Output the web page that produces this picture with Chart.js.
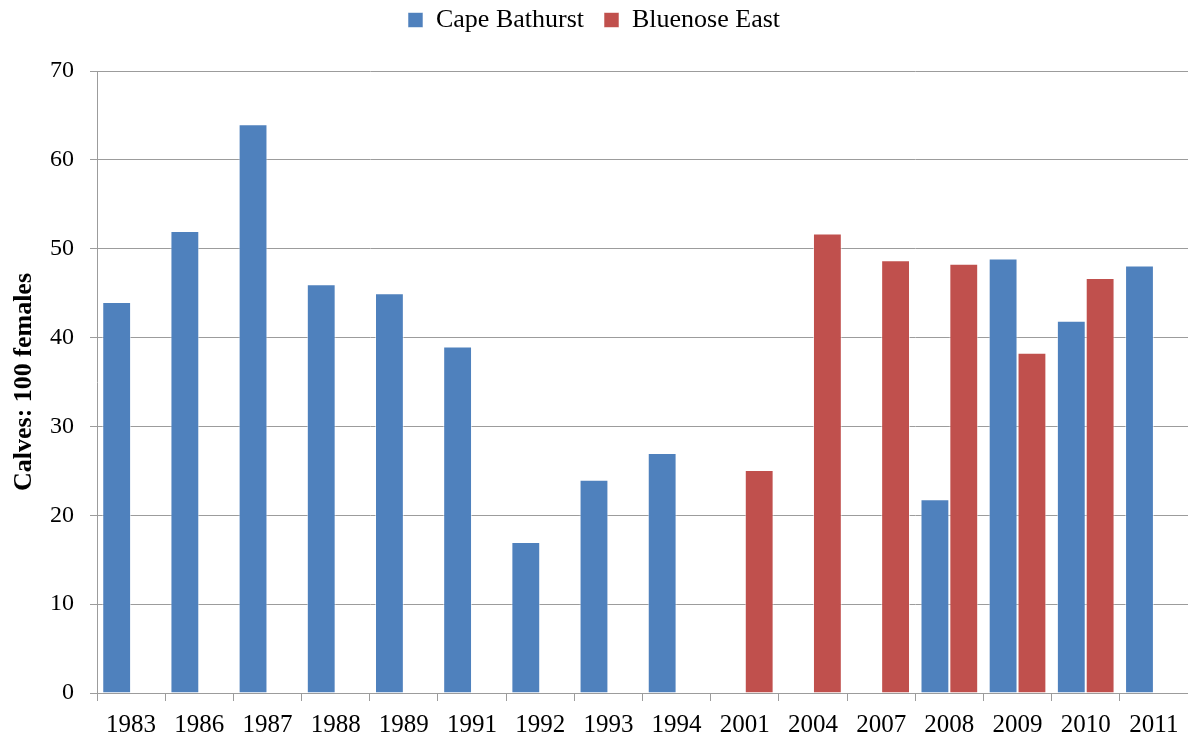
<!DOCTYPE html>
<html>
<head>
<meta charset="utf-8">
<script src="https://cdn.jsdelivr.net/npm/chart.js@4/dist/chart.umd.min.js"></script>
<style>
  html, body { margin: 0; padding: 0; background: #fff; }
  #wrap { width: 1188px; height: 738px; }
</style>
</head>
<body>
<div id="wrap"><canvas id="calvesChart" width="1188" height="738"></canvas></div>
<script>
// categories (survey years)
const years = ['1983', '1986', '1987', '1988', '1989', '1991', '1992', '1993', '1994',
               '2001', '2004', '2007', '2008', '2009', '2010', '2011'];

// calves per 100 females
const capeBathurst = [44, 52, 64, 46, 45, 39, 17, 24, 27, null, null, null, 21.8, 48.9, 41.9, 48.1];
const bluenoseEast = [null, null, null, null, null, null, null, null, null, 25.1, 51.7, 48.7, 48.3, 38.3, 46.7, null];

const yTicks = [0, 10, 20, 30, 40, 50, 60, 70];

const serif = "'Liberation Serif', 'Times New Roman', serif";
const gridGray = '#9c9c9c';

// push the plot down below the legend, like the original
const legendSpacer = {
    id: 'legendSpacer',
    beforeInit(chart) {
        const origFit = chart.legend.fit;
        chart.legend.fit = function () {
            origFit.bind(chart.legend)();
            this.height += 28;
        };
    }
};

const ctx = document.getElementById('calvesChart').getContext('2d');

const calvesChart = new Chart(ctx, {
    type: 'bar',
    data: {
        labels: years,
        datasets: [{
            label: 'Cape Bathurst',
            data: capeBathurst,
            backgroundColor: '#4F81BD',
            borderColor: 'rgba(255,255,255,0.55)',
            borderWidth: 1
        }, {
            label: 'Bluenose East',
            data: bluenoseEast,
            backgroundColor: '#C0504D',
            borderColor: 'rgba(255,255,255,0.55)',
            borderWidth: 1
        }]
    },
    plugins: [legendSpacer],
    options: {
        responsive: false,
        animation: false,
        layout: { padding: { top: -13, left: 0, right: 0, bottom: 0 } },
        datasets: {
            bar: { categoryPercentage: 0.846, barPercentage: 1.0 }
        },
        plugins: {
            legend: {
                position: 'top',
                labels: {
                    font: { family: serif, size: 26 },
                    color: '#000',
                    boxWidth: 15,
                    boxHeight: 15,
                    padding: 20
                }
            },
            tooltip: { enabled: false }
        },
        scales: {
            x: {
                grid: {
                    offset: true,
                    drawOnChartArea: false,
                    drawTicks: true,
                    tickLength: 8,
                    color: gridGray
                },
                border: { color: gridGray },
                ticks: {
                    font: { family: serif, size: 25 },
                    color: '#000',
                    maxRotation: 0,
                    autoSkip: false,
                    padding: 9
                },
                afterFit: function (scale) { scale.height = 45; }
            },
            y: {
                min: 0,
                max: 70,
                afterBuildTicks: function (scale) {
                    scale.ticks = yTicks.map(v => ({ value: v }));
                },
                grid: {
                    color: gridGray,
                    tickLength: 7
                },
                border: { color: gridGray },
                ticks: {
                    font: { family: serif, size: 24 },
                    color: '#000',
                    padding: 16
                },
                title: {
                    display: true,
                    text: 'Calves: 100 females',
                    font: { family: serif, size: 26, weight: 'bold' },
                    color: '#000',
                    padding: { top: 9, bottom: 0 }
                },
                afterFit: function (scale) { scale.width = 97; }
            }
        }
    }
});
</script>
</body>
</html>
